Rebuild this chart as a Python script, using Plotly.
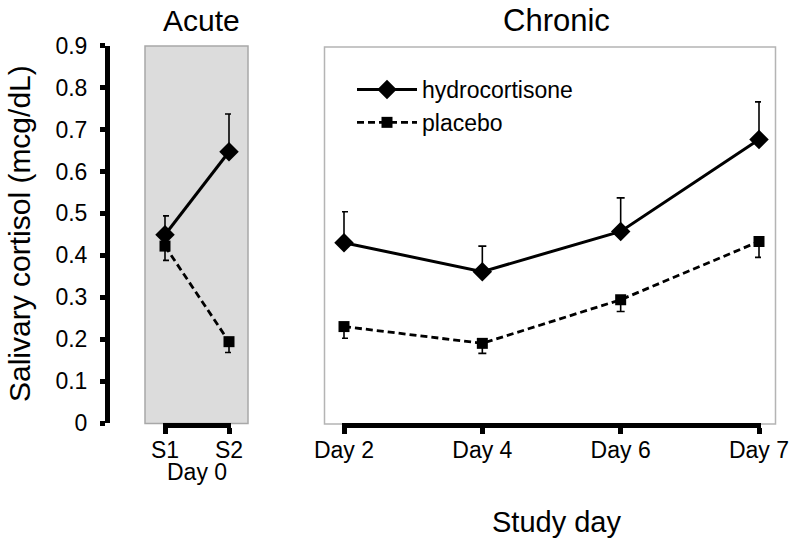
import plotly.graph_objects as go

# ---- data ----
acute_x = ["S1", "S2"]
acute_hydro = [0.449, 0.647]
acute_hydro_err = [0.045, 0.090]
acute_placebo = [0.422, 0.194]
acute_placebo_err = [0.034, 0.026]

chronic_x = ["Day 2", "Day 4", "Day 6", "Day 7"]
chronic_hydro = [0.430, 0.361, 0.457, 0.676]
chronic_hydro_err = [0.074, 0.061, 0.080, 0.090]
chronic_placebo = [0.230, 0.190, 0.294, 0.433]
chronic_placebo_err = [0.028, 0.024, 0.028, 0.038]

y_ticks = [0, 0.1, 0.2, 0.3, 0.4, 0.5, 0.6, 0.7, 0.8, 0.9]
y_ticktext = ["0", "0.1", "0.2", "0.3", "0.4", "0.5", "0.6", "0.7", "0.8", "0.9"]

W, H = 796, 543
def fx(p): return p / W
def fy(p): return 1 - p / H

FONT = "Liberation Sans, Arial, sans-serif"
TICKF = dict(family=FONT, size=23, color="black")

fig = go.Figure()

def err(vals, up=True):
    zeros = [0] * len(vals)
    return dict(type="data", symmetric=False,
                array=vals if up else zeros,
                arrayminus=zeros if up else vals,
                color="black", thickness=1.6, width=4)

hydro_style = dict(mode="lines+markers", line=dict(color="black", width=3),
                   marker=dict(symbol="diamond", size=15, color="black"), cliponaxis=False)
plac_style = dict(mode="lines+markers", line=dict(color="black", width=2.8, dash="7px,4px"),
                  marker=dict(symbol="square", size=11, color="black"), cliponaxis=False)

fig.add_trace(go.Scatter(x=acute_x, y=acute_hydro, error_y=err(acute_hydro_err, True),
                         xaxis="x", yaxis="y", showlegend=False, name="hydrocortisone", **hydro_style))
fig.add_trace(go.Scatter(x=acute_x, y=acute_placebo, error_y=err(acute_placebo_err, False),
                         xaxis="x", yaxis="y", showlegend=False, name="placebo", **plac_style))
fig.add_trace(go.Scatter(x=chronic_x, y=chronic_hydro, error_y=err(chronic_hydro_err, True),
                         xaxis="x2", yaxis="y2", name="hydrocortisone", **hydro_style))
fig.add_trace(go.Scatter(x=chronic_x, y=chronic_placebo, error_y=err(chronic_placebo_err, False),
                         xaxis="x2", yaxis="y2", name="placebo", **plac_style))

ydom = [fy(423), fy(45.7)]

def ann(text, x, y, size, angle=0):
    return dict(text=text, x=fx(x), y=fy(y), xref="paper", yref="paper",
                xanchor="center", yanchor="middle", textangle=angle,
                showarrow=False, font=dict(size=size, family=FONT, color="black"))

fig.update_layout(
    width=W, height=H,
    margin=dict(l=0, r=0, t=0, b=0, pad=0, autoexpand=False),
    paper_bgcolor="white", plot_bgcolor="rgba(0,0,0,0)",
    font=dict(family=FONT, color="black"),
    xaxis=dict(domain=[fx(163), fx(231)], range=[-2/64, 1 + 2/64], type="category",
               anchor="y", showline=True, linewidth=5, linecolor="black",
               ticks="outside", ticklen=6, tickwidth=5, tickcolor="black", automargin=False,
               ticklabelstandoff=-4,
               showgrid=False, zeroline=False, tickfont=TICKF, fixedrange=True),
    yaxis=dict(domain=ydom, range=[0, 0.9], anchor="free", position=fx(107),
               tickvals=y_ticks, ticktext=y_ticktext, automargin=False,
               showline=True, linewidth=5, linecolor="black",
               ticks="outside", ticklen=5, tickwidth=5, tickcolor="black",
               ticklabelstandoff=8,
               showgrid=False, zeroline=False, tickfont=TICKF),
    xaxis2=dict(domain=[fx(342), fx(761)], range=[-2/138.33, 3 + 2/138.33], type="category",
                anchor="y2", showline=True, linewidth=5, linecolor="black", automargin=False,
                ticks="outside", ticklen=6, tickwidth=5, tickcolor="black",
                ticklabelstandoff=-4,
                showgrid=False, zeroline=False, tickfont=TICKF),
    yaxis2=dict(domain=ydom, range=[0, 0.9], anchor="x2", matches="y", visible=False,
                automargin=False),
    legend=dict(x=fx(352), y=fy(68), xanchor="left", yanchor="top",
                font=dict(family=FONT, size=23, color="black"),
                bgcolor="rgba(0,0,0,0)", itemwidth=60, tracegroupgap=0),
    shapes=[
        dict(type="rect", xref="paper", yref="paper", x0=fx(145), x1=fx(248),
             y0=fy(423.5), y1=fy(46), fillcolor="#dcdcdc",
             line=dict(color="#a8a8a8", width=1.5), layer="below"),
        dict(type="rect", xref="paper", yref="paper", x0=fx(324.5), x1=fx(775.5),
             y0=fy(424), y1=fy(47), fillcolor="white",
             line=dict(color="#b4b4b4", width=1.5), layer="below"),
    ],
    annotations=[
        ann("Acute", 201, 20, 30),
        ann("Chronic", 556, 20, 31),
        ann("Day 0", 197, 472, 23),
        ann("Study day", 556, 522, 29),
        ann("Salivary cortisol (mcg/dL)", 19, 234, 30, -90),
    ],
)

fig.write_html("out.html", config={"displayModeBar": False},
               post_script="document.body.style.margin='0';")
